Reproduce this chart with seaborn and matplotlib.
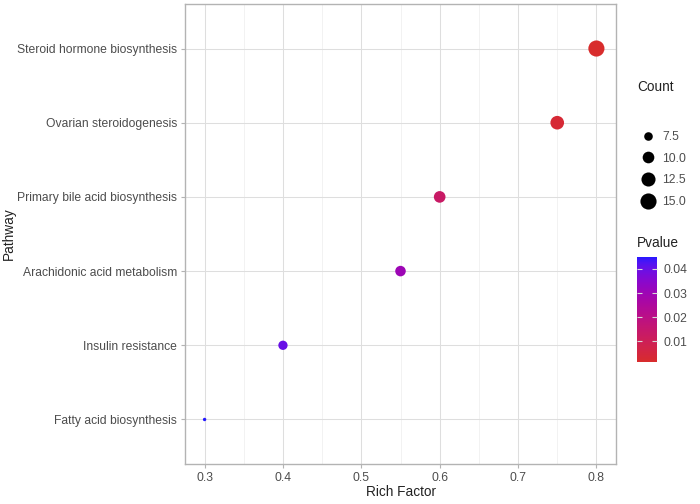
import numpy as np
import pandas as pd
import matplotlib
matplotlib.use("Agg")
import matplotlib.pyplot as plt
from matplotlib.colors import ListedColormap, Normalize
from matplotlib.lines import Line2D
import matplotlib.cm as cm
import seaborn as sns

# ---- data (bottom to top) ----
pathways = ["Fatty acid biosynthesis", "Insulin resistance",
            "Arachidonic acid metabolism", "Primary bile acid biosynthesis",
            "Ovarian steroidogenesis", "Steroid hormone biosynthesis"]
rich_factor = [0.30, 0.40, 0.55, 0.60, 0.75, 0.80]
counts = [5, 8, 9, 10, 12, 15]
pvalues = [0.0450, 0.0400, 0.0300, 0.0130, 0.0030, 0.0012]

size_breaks = [7.5, 10.0, 12.5, 15.0]
p_breaks = [0.01, 0.02, 0.03, 0.04]
x_breaks = [0.3, 0.4, 0.5, 0.6, 0.7, 0.8]

df = pd.DataFrame({"Pathway": pathways, "RichFactor": rich_factor,
                   "Count": counts, "Pvalue": pvalues})

# ---- Lab-interpolated gradient (like ggplot scale_colour_gradient) ----
def srgb_to_lab(rgb):
    rgb = np.asarray(rgb, float)
    lin = np.where(rgb <= 0.04045, rgb / 12.92, ((rgb + 0.055) / 1.055) ** 2.4)
    M = np.array([[0.4124, 0.3576, 0.1805],
                  [0.2126, 0.7152, 0.0722],
                  [0.0193, 0.1192, 0.9505]])
    xyz = M @ lin / np.array([0.95047, 1.0, 1.08883])
    f = np.where(xyz > (6/29) ** 3, np.cbrt(xyz), xyz / (3 * (6/29) ** 2) + 4/29)
    return np.array([116 * f[1] - 16, 500 * (f[0] - f[1]), 200 * (f[1] - f[2])])

def lab_to_srgb(lab):
    L, a, b = lab
    fy = (L + 16) / 116
    fx = fy + a / 500
    fz = fy - b / 200
    f = np.array([fx, fy, fz])
    xyz = np.where(f > 6/29, f ** 3, 3 * (6/29) ** 2 * (f - 4/29))
    xyz = xyz * np.array([0.95047, 1.0, 1.08883])
    Minv = np.array([[3.2406, -1.5372, -0.4986],
                     [-0.9689, 1.8758, 0.0415],
                     [0.0557, -0.2040, 1.0570]])
    lin = Minv @ xyz
    lin = np.clip(lin, 0, 1)
    rgb = np.where(lin <= 0.0031308, 12.92 * lin, 1.055 * lin ** (1/2.4) - 0.055)
    return np.clip(rgb, 0, 1)

low = np.array([0xD8, 0x2C, 0x2C]) / 255
high = np.array([0x24, 0x18, 0xFF]) / 255
lab_lo, lab_hi = srgb_to_lab(low), srgb_to_lab(high)
cols = [lab_to_srgb(lab_lo + t * (lab_hi - lab_lo)) for t in np.linspace(0, 1, 256)]
cmap = ListedColormap(cols)
p_lim = (0.00125, 0.0450)

# ---- figure ----
plt.rcParams["font.family"] = ["Liberation Sans", "DejaVu Sans"]
fig = plt.figure(figsize=(7.0, 5.04), dpi=100)
L, R, T, B = 185, 616, 4, 464
ax = fig.add_axes([L / 700, 1 - B / 504, (R - L) / 700, (B - T) / 504])

size_norm = (5, 15)
size_range = (6, 135)
sns.scatterplot(data=df, x="RichFactor", y="Pathway", size="Count",
                sizes=size_range, size_norm=size_norm, hue="Pvalue",
                palette=cmap, hue_norm=p_lim, legend=False, linewidth=0,
                ax=ax, zorder=3)

ax.set_xlim(0.275, 0.825)
ax.set_ylim(-0.6, len(pathways) - 0.4)
ax.set_xticks(x_breaks)
ax.set_xticklabels([f"{v:.1f}" for v in x_breaks])
ax.set_xticks([0.35, 0.45, 0.55, 0.65, 0.75], minor=True)
ax.grid(True, which="major", color="#DEDEDE", lw=0.75, zorder=0)
ax.grid(True, which="minor", axis="x", color="#E8E8E8", lw=0.4, zorder=0)
ax.set_axisbelow(True)
for s in ax.spines.values():
    s.set_color("#B3B3B3")
    s.set_linewidth(1.0)
ax.tick_params(axis="both", which="major", color="#B3B3B3", length=3,
               width=0.8, labelsize=8.7, labelcolor="#4D4D4D", pad=2.5)
ax.tick_params(axis="both", which="minor", length=0)
ax.set_xlabel("Rich Factor", fontsize=9.8, color="#222222", labelpad=0.8)
ax.set_ylabel("Pathway", fontsize=9.8, color="#222222")
ax.yaxis.set_label_coords((16 - L) / (R - L), 0.5)

# ---- size legend ----
def s_of(c):
    return size_range[0] + (c - size_norm[0]) / (size_norm[1] - size_norm[0]) * (size_range[1] - size_range[0])

handles = [Line2D([], [], ls="", marker="o", color="black", markeredgewidth=0,
                  markersize=np.sqrt(s_of(c))) for c in size_breaks]
fig.text(637 / 700, 1 - 87 / 504, "Count", fontsize=9.8, color="#222222",
         ha="left", va="center")
fig.legend(handles, [f"{c:.1f}" for c in size_breaks], loc="upper left",
           bbox_to_anchor=(638 / 700, 1 - 131 / 504), frameon=False,
           fontsize=8.7, labelcolor="#4D4D4D", handlelength=1.6,
           handletextpad=0.4, labelspacing=0.8, borderpad=0, borderaxespad=0)

# ---- colorbar ----
fig.text(637 / 700, 1 - 243 / 504, "Pvalue", fontsize=9.8, color="#222222",
         ha="left", va="center")
cax = fig.add_axes([637 / 700, 1 - 362 / 504, 20 / 700, 105 / 504])
sm = cm.ScalarMappable(norm=Normalize(*p_lim), cmap=cmap)
cb = fig.colorbar(sm, cax=cax, ticks=p_breaks)
cb.outline.set_visible(False)
cb.ax.set_yticklabels([f"{p:.2f}" for p in p_breaks])
cax.tick_params(axis="y", direction="in", length=3.5, width=0.8,
                color="#D8D8D8", left=True, right=True, labelleft=False,
                labelright=True, labelsize=8.7, labelcolor="#4D4D4D", pad=5)

fig.savefig("out.png", dpi=100)
